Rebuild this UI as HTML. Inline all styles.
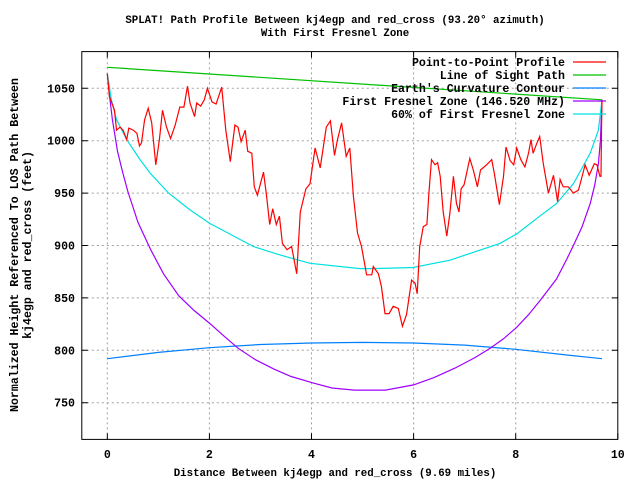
<!DOCTYPE html>
<html><head><meta charset="utf-8"><style>
html,body{margin:0;padding:0;background:#fff;}
svg{display:block;font-family:"Liberation Mono","DejaVu Sans Mono",monospace;font-weight:bold;font-size:11.6px;}
.small{font-size:10.75px;}
</style></head><body>
<svg id="chart" width="640" height="480" xmlns="http://www.w3.org/2000/svg">
<rect width="640" height="480" fill="#fff"/>
<text class="small" x="335" y="23" text-anchor="middle">SPLAT! Path Profile Between kj4egp and red_cross (93.20° azimuth)</text>
<text class="small" x="335" y="36" text-anchor="middle">With First Fresnel Zone</text>
<text class="small" x="335" y="476" text-anchor="middle">Distance Between kj4egp and red_cross (9.69 miles)</text>
<g transform="translate(18,245) rotate(-90)">
<text x="0" y="0" text-anchor="middle">Normalized Height Referenced To LOS Path Between</text>
<text x="0" y="13" text-anchor="middle">kj4egp and red_cross (feet)</text>
</g>
<g id="grid"></g><g id="ticks"></g><g id="series"></g><g id="legend"></g>
<rect x="81.8" y="51.6" width="536" height="387.8" fill="none" stroke="#000" stroke-width="1"/>
</svg>
<script>
const xTicks=[0,2,4,6,8,10];
const yTicks=[750,800,850,900,950,1000,1050];
const profile=[[0,1064],[0.04,1042],[0.08,1037],[0.14,1029],[0.18,1010],[0.25,1013],[0.31,1010],[0.38,1001],[0.42,1012],[0.51,1010],[0.58,1007],[0.63,995],[0.67,998],[0.73,1020],[0.8,1031],[0.87,1017],[0.95,977],[1.02,1001],[1.08,1029],[1.16,1013],[1.24,1002],[1.33,1015],[1.42,1032],[1.5,1032],[1.57,1052],[1.62,1036],[1.71,1023],[1.75,1036],[1.83,1033],[1.9,1039],[1.96,1050],[2.05,1037],[2.13,1035],[2.24,1051],[2.32,1010],[2.41,980],[2.5,1015],[2.56,1013],[2.62,999],[2.7,1010],[2.75,990],[2.83,988],[2.88,956],[2.94,948],[3.06,970],[3.12,947],[3.18,920],[3.24,935],[3.31,920],[3.37,928],[3.43,902],[3.52,896],[3.61,899],[3.71,873],[3.78,932],[3.89,954],[3.97,959],[4.07,993],[4.17,974],[4.29,1013],[4.37,1019],[4.45,986],[4.51,1001],[4.59,1017],[4.68,985],[4.75,993],[4.82,947],[4.9,912],[4.98,899],[5.08,872],[5.18,872],[5.21,880],[5.31,873],[5.37,861],[5.44,835],[5.52,835],[5.6,842],[5.7,840],[5.78,823],[5.86,834],[5.96,867],[6.03,864],[6.07,854],[6.12,899],[6.19,918],[6.26,920],[6.3,950],[6.35,982],[6.42,977],[6.47,979],[6.52,966],[6.58,932],[6.65,909],[6.71,931],[6.78,966],[6.84,940],[6.89,932],[6.93,954],[6.99,958],[7.1,983],[7.17,972],[7.25,956],[7.31,972],[7.43,977],[7.53,982],[7.58,969],[7.68,939],[7.76,966],[7.81,994],[7.89,981],[7.96,977],[8.02,993],[8.1,982],[8.18,975],[8.25,988],[8.3,1001],[8.34,988],[8.41,997],[8.47,1004],[8.54,978],[8.64,950],[8.74,967],[8.82,942],[8.87,963],[8.93,956],[9.03,956],[9.13,950],[9.23,953],[9.29,964],[9.36,977],[9.44,967],[9.54,978],[9.59,977],[9.65,966],[9.67,966],[9.68,1010],[9.69,1039]];
const lineOfSight=[[0,1070],[9.69,1039]];
const earthCurve=[[0,792],[1,798],[2,802.5],[3,805.5],[4,807],[5,807.5],[6,807],[7,805],[8,801],[9,795.5],[9.69,792]];
const fresnel=[[0,1064],[0.05,1040],[0.1,1020],[0.2,990],[0.3,970],[0.4,952],[0.6,922],[0.85,896],[1.1,873],[1.4,852],[1.7,838],[2,826],[2.3,813],[2.56,802],[2.9,791],[3.27,782],[3.6,775],[4.02,769],[4.4,764],[4.84,762],[5.45,762],[6,767],[6.4,774],[6.81,783],[7.2,793],[7.5,802],[7.76,811],[8.02,822],[8.25,834],[8.47,847],[8.8,868],[9.0,887],[9.13,900],[9.3,918],[9.46,940],[9.55,958],[9.62,978],[9.66,1000],[9.69,1039]];
const fresnel60=[[0,1064],[0.08,1039],[0.18,1020],[0.38,1001],[0.64,982],[0.84,969],[1.2,950],[1.62,934],[2.01,921],[2.4,911],[2.86,899],[3.38,891],[3.97,883],[4.95,878],[5.21,878],[5.99,879],[6.71,886],[7.69,902],[8.02,911],[8.47,928],[8.8,940],[9.13,959],[9.46,988],[9.62,1010],[9.69,1039]];
const legendLabels=["Point-to-Point Profile","Line of Sight Path","Earth's Curvature Contour","First Fresnel Zone (146.520 MHz)","60% of First Fresnel Zone"];

const NS="http://www.w3.org/2000/svg";
const X0=81.8,X1=617.8,Y0=439.4,Y1=51.6,XMIN=-0.5,XMAX=10,YMIN=715,YMAX=1085;
function sx(d){return X0+(d-XMIN)/(XMAX-XMIN)*(X1-X0);}
function sy(v){return Y0-(v-YMIN)/(YMAX-YMIN)*(Y0-Y1);}
function mk(tag,attrs,parent){const e=document.createElementNS(NS,tag);for(const k in attrs)e.setAttribute(k,attrs[k]);parent.appendChild(e);return e;}
const grid=document.getElementById('grid'),ticks=document.getElementById('ticks'),series=document.getElementById('series'),legend=document.getElementById('legend');
xTicks.forEach(t=>{
  const x=sx(t);
  if(t<XMAX){const g=mk('line',{x1:x,y1:Y0,x2:x,y2:Y1,stroke:'#a0a0a0','stroke-dasharray':'2,3'},grid);
  
  }
  const tm=mk('path',{d:`M${x},${Y0}v-6M${x},${Y1}v6`,stroke:'#000',fill:'none'},ticks);
  
  
  const lb=mk('text',{x:x,y:458,'text-anchor':'middle'},ticks);lb.textContent=t;
  
  
});
yTicks.forEach(t=>{
  const y=sy(t);
  const g=mk('line',{x1:X0,y1:y,x2:X1,y2:y,stroke:'#a0a0a0','stroke-dasharray':'2,3'},grid);
  
  
  const tm=mk('path',{d:`M${X0},${y}h6M${X1},${y}h-6`,stroke:'#000',fill:'none'},ticks);
  
  
  const lb=mk('text',{x:75,y:y+4,'text-anchor':'end'},ticks);lb.textContent=t;
  
  
});
function drawLine(pts,color,name){
  const d=pts.map((p,i)=>(i?'L':'M')+sx(p[0]).toFixed(1)+','+sy(p[1]).toFixed(1)).join('');
  const e=mk('path',{d:d,stroke:color,fill:'none','stroke-width':1.2},series);
  
  
}
drawLine(earthCurve,'#0080ff','earth-curvature-line');
drawLine(fresnel,'#a000ff','fresnel-zone-line');
drawLine(fresnel60,'#00e0e0','fresnel-60-line');
drawLine(lineOfSight,'#00c000','line-of-sight-line');
drawLine(profile,'#ff0000','terrain-profile-line');
const colors=['#ff0000','#00c000','#0080ff','#a000ff','#00e0e0'];
legendLabels.forEach((lab,i)=>{
  const y=62+i*13;
  const t=mk('text',{x:565,y:y+4,'text-anchor':'end'},legend);t.textContent=lab;
  
  
  const s=mk('line',{x1:573,y1:y,x2:606,y2:y,stroke:colors[i],'stroke-width':1.2},legend);
  
  
});
</script>
</body></html>
